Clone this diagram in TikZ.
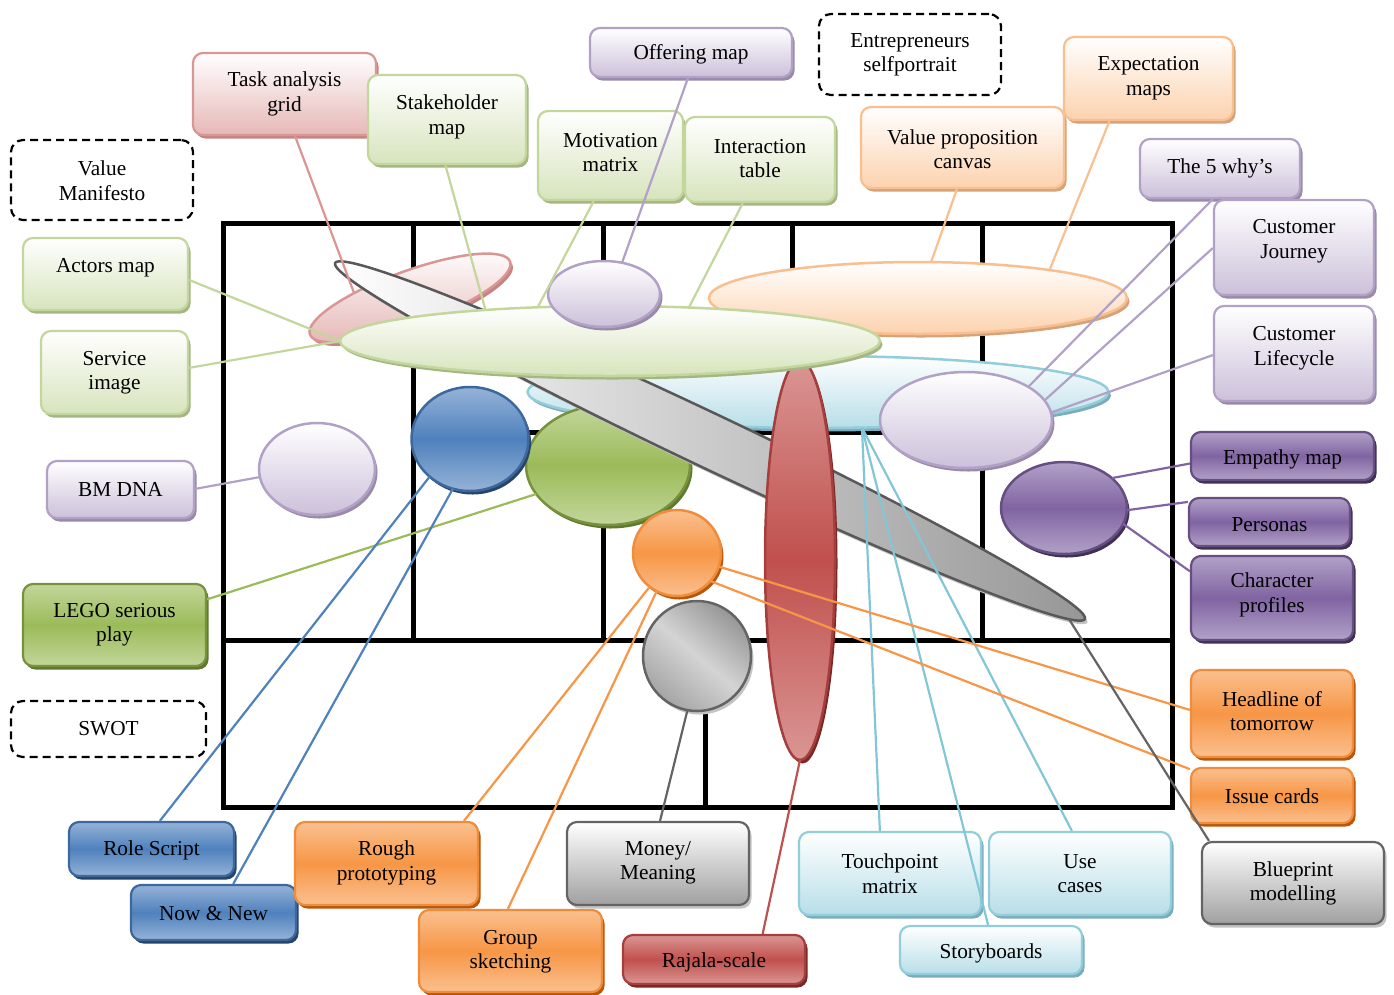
\documentclass[tikz,border=0pt]{standalone}
\usepackage{fontspec}
\setmainfont{Liberation Serif}
\usetikzlibrary{calc,shapes.geometric}

% --- palette: border / light fill / strong fill / shadow ---
\definecolor{pinkB}{RGB}{217,150,148}\definecolor{pinkF}{RGB}{230,184,183}\definecolor{pinkS}{RGB}{196,132,130}
\definecolor{greenB}{RGB}{195,214,155}\definecolor{greenF}{RGB}{215,228,189}\definecolor{greenS}{RGB}{165,181,132}
\definecolor{lavB}{RGB}{178,161,199}\definecolor{lavF}{RGB}{204,192,218}\definecolor{lavS}{RGB}{152,139,168}
\definecolor{peachB}{RGB}{250,191,143}\definecolor{peachF}{RGB}{252,210,174}\definecolor{peachS}{RGB}{212,163,122}
\definecolor{cyanB}{RGB}{146,205,220}\definecolor{cyanF}{RGB}{183,222,232}\definecolor{cyanS}{RGB}{124,172,186}
\definecolor{cyanL}{RGB}{130,198,215}
\definecolor{grayB}{RGB}{100,100,100}\definecolor{grayF}{RGB}{160,160,160}\definecolor{grayS}{RGB}{195,195,195}
\definecolor{oliveL}{RGB}{195,214,155}\definecolor{oliveM}{RGB}{155,187,89}\definecolor{oliveB}{RGB}{118,146,60}\definecolor{oliveS}{RGB}{96,120,48}
\definecolor{blueL}{RGB}{149,179,215}\definecolor{blueM}{RGB}{79,129,189}\definecolor{blueB}{RGB}{60,104,158}\definecolor{blueS}{RGB}{40,68,104}
\definecolor{orangeL}{RGB}{250,192,143}\definecolor{orangeM}{RGB}{247,150,70}\definecolor{orangeB}{RGB}{240,140,60}\definecolor{orangeS}{RGB}{182,87,9}
\definecolor{redL}{RGB}{218,150,148}\definecolor{redM}{RGB}{192,80,77}\definecolor{redB}{RGB}{165,62,60}\definecolor{redS}{RGB}{120,40,38}
\definecolor{purpleL}{RGB}{178,161,199}\definecolor{purpleM}{RGB}{128,100,162}\definecolor{purpleB}{RGB}{100,78,130}\definecolor{purpleS}{RGB}{64,49,81}

\tikzset{
  lbl/.style={font=\fontsize{21.3}{24.5}\selectfont, align=center, inner sep=0pt},
  % soft gradient fill (white to tint) with offset shadow
  sfill/.style n args={4}{draw=#1, top color=#2, bottom color=#3,
    preaction={fill=#4, transform canvas={shift={(2.5,3.5)}}}},
  % strong gradient fill (light - strong - light) with offset shadow
  ifill/.style n args={4}{draw=#1, top color=#2, bottom color=#2, middle color=#3,
    preaction={fill=#4, transform canvas={shift={(2.5,3.5)}}}},
  boxshape/.style={rectangle, rounded corners=10pt, line width=2.2pt, inner sep=0pt},
  pinkbox/.style={boxshape, sfill={pinkB}{white}{pinkF}{pinkS}},
  greenbox/.style={boxshape, sfill={greenB}{white}{greenF}{greenS}},
  lavbox/.style={boxshape, sfill={lavB}{white}{lavF}{lavS}},
  peachbox/.style={boxshape, sfill={peachB}{white}{peachF}{peachS}},
  cyanbox/.style={boxshape, sfill={cyanB}{white}{cyanF}{cyanS}},
  graybox/.style={boxshape, sfill={grayB}{white}{grayF}{grayS}},
  olivebox/.style={boxshape, ifill={oliveB}{oliveL}{oliveM}{oliveS}},
  bluebox/.style={boxshape, ifill={blueB}{blueL}{blueM}{blueS}},
  orangebox/.style={boxshape, ifill={orangeB}{orangeL}{orangeM}{orangeS}},
  redbox/.style={boxshape, ifill={redB}{redL}{redM}{redS}},
  purplebox/.style={boxshape, ifill={purpleB}{purpleL}{purpleM}{purpleS}},
  dashbox/.style={rectangle, rounded corners=12pt, draw=black, line width=2.2pt,
    dash pattern=on 8pt off 5pt, fill=white, inner sep=0pt},
  blob/.style={ellipse, line width=2.5pt, inner sep=0pt, outer sep=0pt},
  gridline/.style={line width=5pt, line cap=rect},
  cn/.style={line width=2.2pt, draw=#1},
}

% box with its caption: name, style, x, y, width, height, caption lift, caption
\newcommand\tbox[8]{%
  \node[#2, minimum width=#5pt, minimum height=#6pt] (#1) at (#3,#4) {};
  \node[lbl] (#1-t) at ([yshift={(#7-3)*1pt}]#1.center) {#8};}

\begin{document}
\begin{tikzpicture}[x=1pt,y=-1pt]
\useasboundingbox (0,0) rectangle (1394,994);

% --- frame and grid ---
\draw[gridline] (223,223) rectangle (1172,807);
\draw[gridline] (223,640) -- (1172,640);
\foreach \gx in {413,603,792,982} \draw[gridline] (\gx,223) -- (\gx,640);
\draw[gridline] (413,432) -- (982,432);
\draw[gridline] (705,640) -- (705,807);

% --- shapes inside the grid ---
\node[blob, minimum width=581pt, minimum height=72pt, sfill={cyanB}{white}{cyanF}{cyanS}] (lblue) at (818,392) {};
\node[blob, minimum width=164pt, minimum height=120pt, ifill={oliveB}{oliveL}{oliveM}{oliveS}] (gcirc) at (608,465) {};
\node[blob, minimum width=213pt, minimum height=54pt, rotate=20, sfill={pinkB}{white}{pinkF}{pinkS}] (pink) at (410,298) {};
\node[blob, minimum width=830pt, minimum height=54pt, rotate=-25.4, draw={rgb,255:red,88;green,88;blue,88},
  left color=white, right color={rgb,255:red,150;green,150;blue,150},
  preaction={fill=grayS, transform canvas={shift={(2.5,3.5)}}}] (gbar) at (710,441) {};
\node[blob, minimum width=418pt, minimum height=72pt, sfill={peachB}{white}{peachF}{peachS}] (peach) at (918,298) {};
\node[blob, minimum width=172pt, minimum height=96pt, sfill={lavB}{white}{lavF}{lavS}] (lavr) at (966,420) {};
\node[blob, minimum width=117pt, minimum height=104pt, ifill={blueB}{blueL}{blueM}{blueS}] (bcirc) at (470,439) {};
\node[blob, minimum width=116pt, minimum height=92pt, sfill={lavB}{white}{lavF}{lavS}] (lavl) at (317,469) {};
\node[blob, minimum width=88pt, minimum height=86pt, ifill={orangeB}{orangeL}{orangeM}{orangeS}] (ocirc) at (677,553) {};
\node[blob, minimum width=108pt, minimum height=110pt, draw=grayB,
  top color={rgb,255:red,150;green,150;blue,150}, bottom color={rgb,255:red,165;green,165;blue,165},
  middle color={rgb,255:red,212;green,212;blue,212}, shading angle=-40,
  preaction={fill=grayS, transform canvas={shift={(2.5,3.5)}}}] (gcircle) at (697,656) {};
\node[blob, minimum width=70pt, minimum height=400pt, ifill={redB}{redL}{redM}{redS}] (red) at (800,560) {};
\node[blob, minimum width=540pt, minimum height=70pt, sfill={greenB}{white}{greenF}{greenS}] (gbig) at (610,341) {};
\node[blob, minimum width=112pt, minimum height=66pt, sfill={lavB}{white}{lavF}{lavS}] (lavs) at (604,294) {};
\node[blob, minimum width=126pt, minimum height=92pt, ifill={purpleB}{purpleL}{purpleM}{purpleS}] (purple) at (1064,508) {};

% --- method boxes ---
\tbox{task}{pinkbox}{284.5}{94}{183}{82}{3}{Task analysis\\grid}
\tbox{stake}{greenbox}{447}{119.5}{158}{89}{5.5}{Stakeholder\\map}
\tbox{motiv}{greenbox}{610.5}{155.5}{145}{89}{6}{Motivation\\matrix}
\tbox{inter}{greenbox}{760}{159.5}{150}{85}{4}{Interaction\\table}
\tbox{offer}{lavbox}{691}{52.5}{202}{49}{1}{Offering map}
\tbox{entre}{dashbox}{910}{54.5}{182}{81}{2.5}{Entrepreneurs\\selfportrait}
\tbox{vpc}{peachbox}{962.5}{147.5}{203}{81}{1.5}{Value proposition\\canvas}
\tbox{expect}{peachbox}{1148.5}{78.5}{169}{83}{3.5}{Expectation\\maps}
\tbox{five}{lavbox}{1220}{168.5}{160}{59}{3.5}{The 5 why’s}
\tbox{journey}{lavbox}{1294}{247.5}{160}{95}{9.5}{Customer\\Journey}
\tbox{life}{lavbox}{1294}{353.5}{160}{95}{8.5}{Customer\\Lifecycle}
\tbox{vman}{dashbox}{102}{180}{182}{80}{2.5}{Value\\Manifesto}
\tbox{actors}{greenbox}{105.5}{274}{165}{72}{9}{Actors map}
\tbox{service}{greenbox}{114.5}{372.5}{147}{83}{3}{Service\\image}
\tbox{bmdna}{lavbox}{120.5}{489.5}{147}{57}{3.5}{BM DNA}
\tbox{lego}{olivebox}{114.5}{625}{183}{82}{3.5}{LEGO serious\\play}
\tbox{swot}{dashbox}{108.5}{729}{195}{56}{3}{SWOT}
\tbox{role}{bluebox}{151.5}{849}{165}{54}{2}{Role Script}
\tbox{nownew}{bluebox}{213.5}{912.5}{165}{55}{1.5}{Now \& New}
\tbox{rough}{orangebox}{386.5}{863.5}{183}{83}{3.5}{Rough\\prototyping}
\tbox{group}{orangebox}{510.5}{951}{183}{82}{2.5}{Group\\sketching}
\tbox{money}{graybox}{658}{863.5}{182}{83}{3.5}{Money/\\Meaning}
\tbox{rajala}{redbox}{714}{959.5}{182}{49}{0}{Rajala-scale}
\tbox{touch}{cyanbox}{890}{873.5}{182}{83}{3}{Touchpoint\\matrix}
\tbox{usec}{cyanbox}{1080}{873.5}{182}{83}{3}{Use\\cases}
\tbox{story}{cyanbox}{991}{950}{182}{48}{0}{Storyboards}
\tbox{blueprint}{graybox}{1293}{883}{182}{82}{2.5}{Blueprint\\modelling}
\tbox{headline}{orangebox}{1272}{713.5}{162}{87}{5.5}{Headline of\\tomorrow}
\tbox{issue}{orangebox}{1272}{795.5}{162}{55}{2.5}{Issue cards}
\tbox{empathy}{purplebox}{1282.5}{456}{183}{48}{0}{Empathy map}
\tbox{personas}{purplebox}{1269.5}{522}{161}{48}{0}{Personas}
\tbox{charp}{purplebox}{1272}{598}{162}{84}{6}{Character\\profiles}

% --- connectors ---
\draw[cn=pinkB] ($(task.south west)!0.557!(task.south east)$) -- (pink.155);
\draw[cn=greenB] ($(stake.south west)!0.49!(stake.south east)$) -- (gbig.166);
\draw[cn=greenB] ($(motiv.south west)!0.386!(motiv.south east)$) -- (gbig.155);
\draw[cn=greenB] ($(inter.south west)!0.387!(inter.south east)$) -- (gbig.23);
\draw[cn=lavB] ($(offer.south west)!0.485!(offer.south east)$) -- (lavs.60);
\draw[cn=peachB] ($(vpc.south west)!0.473!(vpc.south east)$) -- (peach.70);
\draw[cn=peachB] ($(expect.south west)!0.272!(expect.south east)$) -- (peach.12.6);
\draw[cn=lavB] ($(five.south west)!0.456!(five.south east)$) -- (lavr.28.7);
\draw[cn=lavB] ($(journey.north west)!0.505!(journey.south west)$) -- (lavr.14.6);
\draw[cn=lavB] ($(life.north west)!0.516!(life.south west)$) -- (lavr.5.4);
\draw[cn=greenB] ($(actors.north east)!0.58!(actors.south east)$) -- (gbig.west);
\draw[cn=greenB] ($(service.north east)!0.446!(service.south east)$) -- (gbig.west);
\draw[cn=lavB] ($(bmdna.north east)!0.49!(bmdna.south east)$) -- (lavl.188);
\draw[cn=oliveM] ($(lego.north east)!0.195!(lego.south east)$) -- (gcirc.202);
\draw[cn=blueM] ($(role.north west)!0.55!(role.north east)$) -- (bcirc.223);
\draw[cn=blueM] ($(nownew.north west)!0.618!(nownew.north east)$) -- (bcirc.251);
\draw[cn=orangeM] ($(rough.north west)!0.918!(rough.north east)$) -- (ocirc.231);
\draw[cn=orangeM] ($(group.north west)!0.486!(group.north east)$) -- (ocirc.242);
\draw[cn=grayB] ($(money.north west)!0.511!(money.north east)$) -- (gcircle.260);
\draw[cn=redM] ($(rajala.north west)!0.764!(rajala.north east)$) -- (red.south);
\draw[cn=cyanL] ($(touch.north west)!0.445!(touch.north east)$) -- (lblue.-39);
\draw[cn=cyanL] ($(story.north west)!0.484!(story.north east)$) -- (lblue.-39);
\draw[cn=cyanL] ($(usec.north west)!0.456!(usec.north east)$) -- (lblue.-39);
\draw[cn=orangeM] ($(headline.north west)!0.46!(headline.south west)$) -- (ocirc.-18);
\draw[cn=orangeM] ($(issue.north west)!0.04!(issue.south west)$) -- (ocirc.-40);
\draw[cn=grayB] ($(blueprint.north west)!0.044!(blueprint.north east)$) -- (gbar.-1.5);
\draw[cn=purpleM] ($(empathy.north west)!0.65!(empathy.south west)$) -- (purple.32);
\draw[cn=purpleM] ($(personas.north west)!0.1!(personas.south west)$) -- (purple.-2);
\draw[cn=purpleM] ($(charp.north west)!0.19!(charp.south west)$) -- (purple.-15);
\end{tikzpicture}
\end{document}
